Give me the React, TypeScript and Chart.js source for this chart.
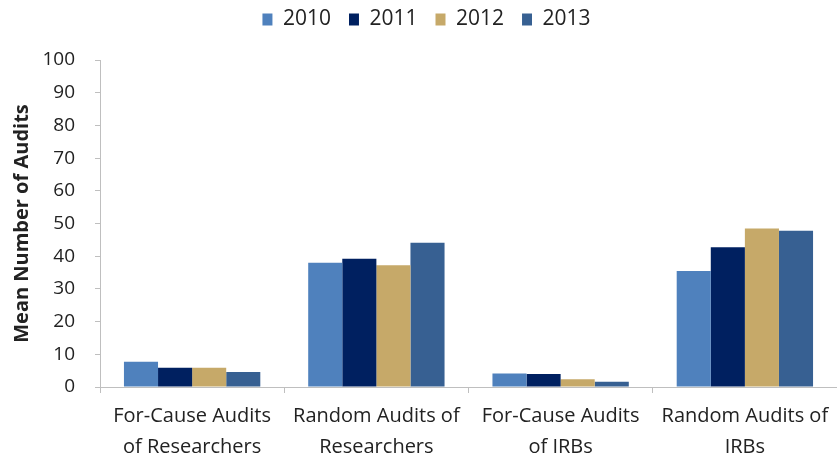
import React, { useEffect, useRef } from "react";
import { Chart, registerables } from "chart.js";

Chart.register(...registerables);

const categories: string[][] = [
  ["For-Cause Audits", "of Researchers"],
  ["Random Audits of", "Researchers"],
  ["For-Cause Audits", "of IRBs"],
  ["Random Audits of", "IRBs"],
];
const years = ["2010", "2011", "2012", "2013"];
const values2010 = [7.7, 38.0, 4.1, 35.5];
const values2011 = [5.9, 39.2, 4.0, 42.7];
const values2012 = [5.9, 37.2, 2.4, 48.5];
const values2013 = [4.6, 44.1, 1.6, 47.8];
const colors = ["#4F81BD", "#002060", "#C6A969", "#376092"];
const yTitle = "Mean Number of Audits";

const FONT = "'Open Sans', 'Liberation Sans', Arial, sans-serif";

export default function App() {
  const ref = useRef<HTMLCanvasElement | null>(null);
  useEffect(() => {
    if (!ref.current) return;
    const series = [values2010, values2011, values2012, values2013];
    const legendLayout = {
      id: "legendLayout",
      beforeInit(chart: any) {
        const orig = chart.legend.fit;
        chart.legend.fit = function () {
          orig.call(this);
          this.height = 69;
        };
      },
      afterLayout(chart: any) {
        if (chart.legend) chart.legend.left = 16;
      },
    };
    const chart = new Chart(ref.current, {
      type: "bar",
      data: {
        labels: categories as any,
        datasets: series.map((d, i) => ({
          label: years[i],
          data: d,
          backgroundColor: colors[i],
          borderWidth: 0,
          categoryPercentage: 0.74,
          barPercentage: 1.0,
        })),
      },
      options: {
        animation: false,
        responsive: false,
        maintainAspectRatio: false,
        layout: { padding: { top: -9, left: 0, right: 0, bottom: 0 } },
        plugins: {
          legend: {
            position: "top",
            labels: {
              boxWidth: 10,
              boxHeight: 12,
              padding: 18,
              color: "#222",
              font: { family: FONT, size: 21 },
            },
          },
          tooltip: { enabled: false },
        },
        scales: {
          x: {
            grid: {
              display: true,
              drawOnChartArea: false,
              drawTicks: true,
              tickLength: 6,
              color: "#BFBFBF",
              offset: true,
            },
            border: { color: "#BFBFBF", width: 1 },
            ticks: {
              color: "#222",
              padding: 8,
              maxRotation: 0,
              autoSkip: false,
              font: { family: FONT, size: 20, lineHeight: 1.55 },
            },
            afterFit(s: any) {
              s.height = 457 - 387;
            },
          },
          y: {
            min: 0,
            max: 100,
            grid: {
              display: true,
              drawOnChartArea: false,
              drawTicks: true,
              tickLength: 5,
              color: "#BFBFBF",
            },
            border: { color: "#BFBFBF", width: 1 },
            ticks: {
              stepSize: 10,
              color: "#222",
              padding: 20,
              font: { family: FONT, size: 19 },
            },
            title: {
              display: true,
              text: yTitle,
              color: "#222",
              font: { family: FONT, size: 20, weight: "bold" },
              padding: { top: 10, bottom: 0 },
            },
            afterFit(s: any) {
              s.width = 100;
            },
          },
        },
      },
      plugins: [legendLayout],
    });
    return () => chart.destroy();
  }, []);
  return (
    <div style={{ position: "fixed", left: 0, top: 0, width: 837, height: 457, background: "#fff" }}>
      <canvas ref={ref} width={837} height={457} style={{ display: "block" }} />
    </div>
  );
}
